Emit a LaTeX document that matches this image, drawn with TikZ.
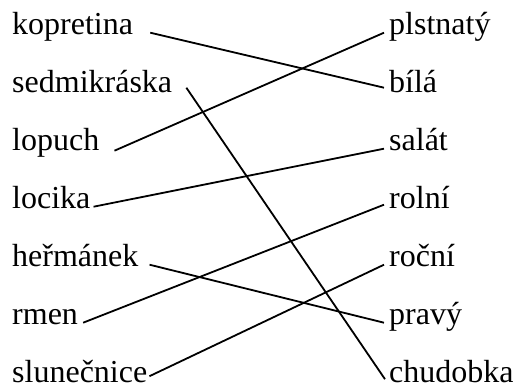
\documentclass[tikz,border=0pt]{standalone}
\usepackage{fontspec}
\setmainfont{Liberation Serif}
\begin{document}
\begin{tikzpicture}[x=1pt,y=-1pt,
  word/.style={inner sep=0pt, anchor=base west, font=\fontsize{32}{38}\selectfont},
  link/.style={line width=1.8pt, black}]
\useasboundingbox (0,0) rectangle (517,387);
% left column
\node[word] (l1) at (12,35) {kopretina};
\node[word] (l2) at (12,93) {sedmikráska};
\node[word] (l3) at (12,151) {lopuch};
\node[word] (l4) at (12,209) {locika};
\node[word] (l5) at (12,267) {heřmánek};
\node[word] (l6) at (12,325) {rmen};
\node[word] (l7) at (12,382.5) {slunečnice};
% right column
\node[word] (r1) at (389,35) {plstnatý};
\node[word] (r2) at (389,93) {bílá};
\node[word] (r3) at (389,151) {salát};
\node[word] (r4) at (389,209) {rolní};
\node[word] (r5) at (389,267) {roční};
\node[word] (r6) at (389,325) {pravý};
\node[word] (r7) at (389,382.5) {chudobka};
% connectors
\draw[link] ([xshift=17pt]l1.mid east) -- ([xshift=-5pt,yshift=3pt]r2.mid west);
\draw[link] ([xshift=14pt,yshift=3pt]l2.mid east) -- ([xshift=-4pt,yshift=1pt]r7.mid west);
\draw[link] ([xshift=15pt,yshift=-2pt]l3.mid east) -- ([xshift=-5pt]r1.mid west);
\draw[link] ([xshift=3pt]l4.mid east) -- ([xshift=-5pt]r3.mid west);
\draw[link] ([xshift=11pt]l5.mid east) -- ([xshift=-5pt]r6.mid west);
\draw[link] ([xshift=5pt]l6.mid east) -- ([xshift=-5pt,yshift=2pt]r4.mid west);
\draw[link] ([xshift=2pt,yshift=4pt]l7.mid east) -- ([xshift=-5pt]r5.mid west);
\end{tikzpicture}
\end{document}
